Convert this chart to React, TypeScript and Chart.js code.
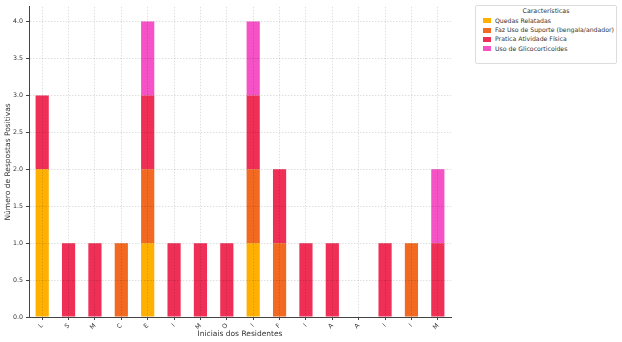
import React, { useEffect, useRef } from "react";
import { Chart, registerables } from "chart.js";

Chart.register(...registerables);

const residents = ["L", "S", "M", "C", "E", "I", "M", "O", "I", "F", "I", "A", "A", "I", "I", "M"];
const quedasRelatadas = [2, 0, 0, 0, 1, 0, 0, 0, 1, 0, 0, 0, 0, 0, 0, 0];
const usoSuporte = [0, 0, 0, 1, 1, 0, 0, 0, 1, 1, 0, 0, 0, 0, 1, 0];
const praticaAtividade = [1, 1, 1, 0, 1, 1, 1, 1, 1, 1, 1, 1, 0, 1, 0, 1];
const usoGlicocorticoides = [0, 0, 0, 0, 1, 0, 0, 0, 1, 0, 0, 0, 0, 0, 0, 1];

const seriesNames = [
  "Quedas Relatadas",
  "Faz Uso de Suporte (bengala/andador)",
  "Pratica Atividade Física",
  "Uso de Glicocorticoides",
];
const seriesColors = ["#FFB000", "#F26A22", "#F02F57", "#F552C6"];
const legendTitle = "Características";
const xTitle = "Iniciais dos Residentes";
const yTitle = "Número de Respostas Positivas";

const FONT = "'DejaVu Sans', sans-serif";

export default function App() {
  const ref = useRef<HTMLCanvasElement | null>(null);

  useEffect(() => {
    if (!ref.current) return;
    const values = [quedasRelatadas, usoSuporte, praticaAtividade, usoGlicocorticoides];
    const chart = new Chart(ref.current, {
      type: "bar",
      data: {
        labels: residents,
        datasets: values.map((v, i) => ({
          label: seriesNames[i],
          data: v,
          backgroundColor: seriesColors[i],
          borderWidth: 0,
          barPercentage: 0.5,
          categoryPercentage: 1,
        })),
      },
      options: {
        animation: false,
        responsive: false,
        maintainAspectRatio: false,
        layout: { padding: { left: 0, right: 171, top: 3, bottom: 0 } },
        plugins: { legend: { display: false }, tooltip: { enabled: false }, title: { display: false } },
        scales: {
          x: {
            stacked: true,
            afterFit: (s: any) => { s.height = 25; },
            grid: {
              offset: false,
              color: "rgba(0,0,0,0.13)",
              lineWidth: 1,
              z: 1,
              tickLength: 3,
              tickColor: "#444",
              tickBorderDash: [],
            },
            border: { display: true, color: "#444", width: 1, dash: [1.5, 1.5], z: 2 },
            ticks: {
              autoSkip: false,
              minRotation: 45,
              maxRotation: 45,
              padding: 2,
              color: "#333",
              font: { family: FONT, size: 6.3 },
            },
            title: {
              display: true,
              text: xTitle,
              color: "#333",
              font: { family: FONT, size: 7.5 },
              padding: { top: 0, bottom: 3.5 },
            },
          },
          y: {
            stacked: true,
            min: 0,
            max: 4.2,
            afterFit: (s: any) => { s.width = 29; },
            afterBuildTicks: (s: any) => {
              s.ticks = s.ticks.filter((t: any) => t.value <= 4.0001);
            },
            grid: {
              color: "rgba(0,0,0,0.13)",
              lineWidth: 1,
              z: 1,
              tickLength: 3,
              tickColor: "#444",
              tickBorderDash: [],
            },
            border: { display: true, color: "#444", width: 1, dash: [1.5, 1.5], z: 2 },
            ticks: {
              stepSize: 0.5,
              padding: 3,
              color: "#333",
              font: { family: FONT, size: 6.3 },
              callback: (v: any) => Number(v).toFixed(1),
            },
            title: {
              display: true,
              text: yTitle,
              color: "#333",
              font: { family: FONT, size: 7.5 },
              padding: { top: 4, bottom: 0 },
            },
          },
        },
      },
    } as any);
    return () => chart.destroy();
  }, []);

  const rowCenters = [14.7, 24, 33.3, 42.7];

  return (
    <div style={{ position: "fixed", left: 0, top: 0, width: 622, height: 342, background: "#fff", overflow: "hidden" }}>
      <canvas ref={ref} width={622} height={342} style={{ display: "block" }} />
      <div
        style={{
          position: "absolute",
          left: 475,
          top: 5,
          width: 140,
          height: 57,
          border: "1px solid #dddddd",
          borderRadius: 2,
          background: "#fff",
          fontFamily: FONT,
          fontSize: 6.2,
          color: "#333",
        }}
      >
        <div
          style={{
            position: "absolute",
            left: 0,
            width: "100%",
            top: 4.7 - 4,
            height: 8,
            lineHeight: "8px",
            textAlign: "center",
            fontSize: 6.3,
            whiteSpace: "nowrap",
          }}
        >
          {legendTitle}
        </div>
        {seriesNames.map((n, i) => (
          <React.Fragment key={n}>
            <div
              style={{
                position: "absolute",
                left: 7,
                top: rowCenters[i] - 2.5,
                width: 8,
                height: 5,
                background: seriesColors[i],
              }}
            />
            <div
              style={{
                position: "absolute",
                left: 19,
                top: rowCenters[i] - 4,
                height: 8,
                lineHeight: "8px",
                whiteSpace: "nowrap",
              }}
            >
              {n}
            </div>
          </React.Fragment>
        ))}
      </div>
    </div>
  );
}
